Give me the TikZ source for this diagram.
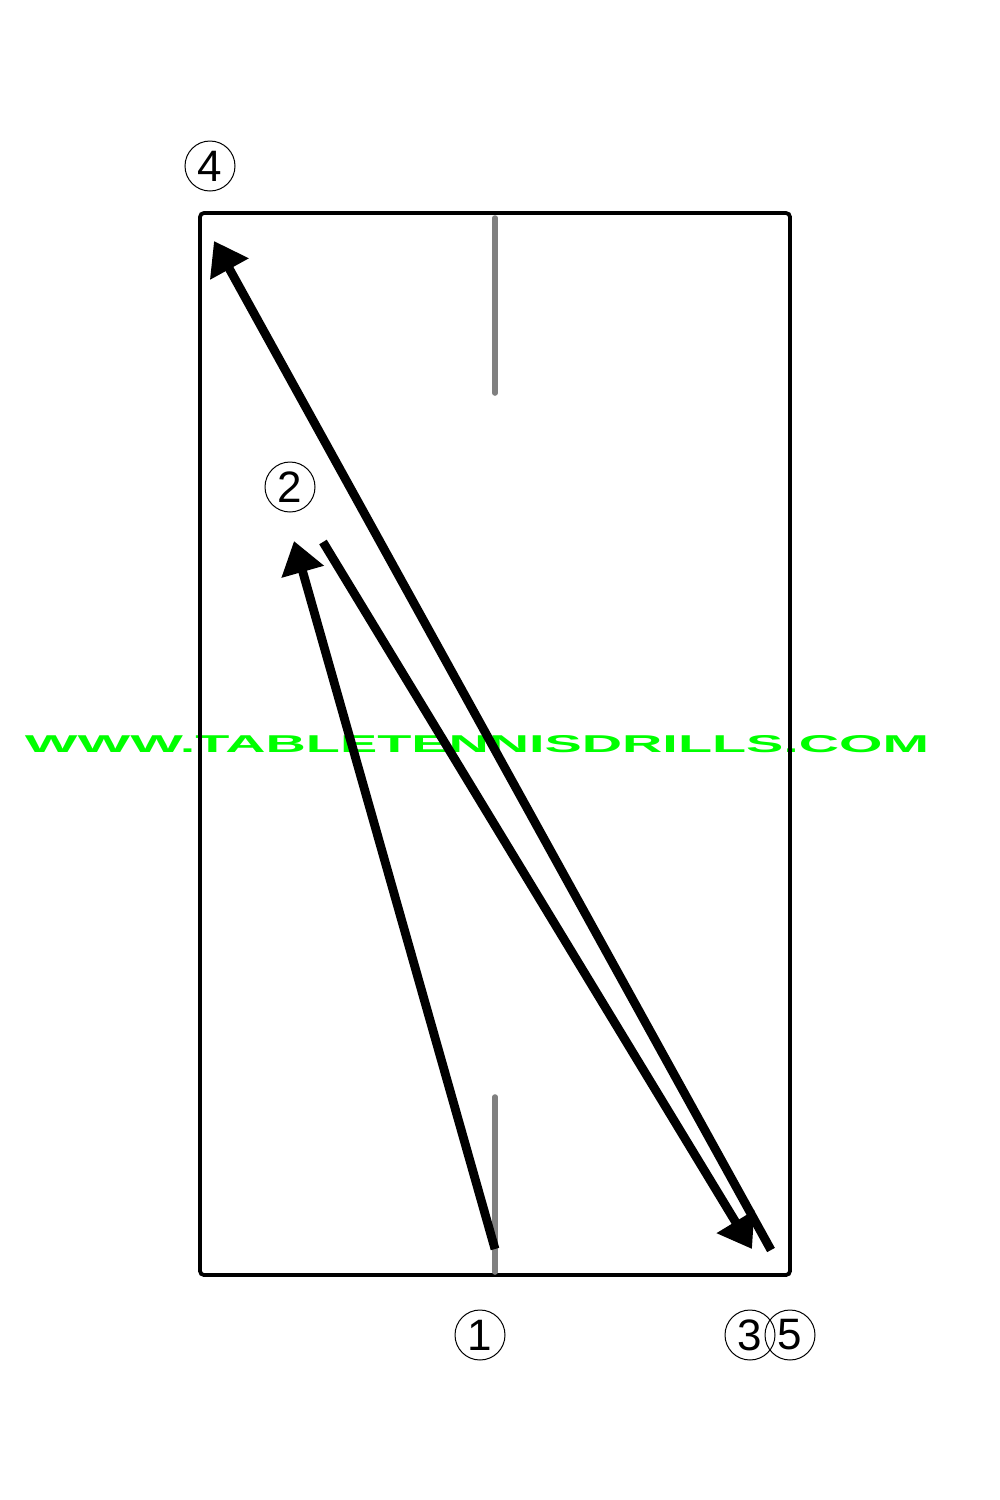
\documentclass[tikz,border=0pt]{standalone}
\usepackage{fontspec}
\setmainfont{Liberation Sans}
\usetikzlibrary{arrows.meta}
\definecolor{wmgreen}{RGB}{0,255,0}
\definecolor{netgray}{RGB}{128,128,128}
\begin{document}
\begin{tikzpicture}[x=0.5pt,y=-0.5pt,
  tablebox/.style={line width=1.9pt,rounded corners=2pt},
  centerline/.style={draw=netgray,line width=2.8pt,line cap=round},
  shot/.style={line width=4.4pt,-{Triangle[length=16pt,width=21pt]}},
  numcirc/.style={circle,draw,line width=0.5pt,minimum size=25pt,inner sep=0pt,font=\fontsize{22}{22}\selectfont}]
\useasboundingbox (0,0) rectangle (1000,1500);
% watermark
\node[inner sep=0pt,text=wmgreen] (wm) at (477,744) {\resizebox{452pt}{8.5pt}{\bfseries WWW.TABLETENNISDRILLS.COM}};
% table
\draw[tablebox] (200,213) rectangle (790,1275);
\draw[centerline] (495,218) -- (495,393);
\draw[centerline] (495,1097) -- (495,1272);
% coordinates
\coordinate (s1) at (495,1249);
\coordinate (e1) at (294,541);
\coordinate (s2) at (323,542);
\coordinate (e2) at (752,1249);
\coordinate (s3) at (771,1250);
\coordinate (e3) at (214,241);
\draw[shot] (s1) -- (e1);
\draw[shot] (s2) -- (e2);
\draw[shot] (s3) -- (e3);
% numbers
\node[numcirc] (n4) at (210,166) {4};
\node[numcirc] (n2) at (290,487) {2};
\node[numcirc] (n1) at (480,1335) {1};
\node[numcirc] (n3) at (750,1335) {3};
\node[numcirc] (n5) at (790,1335) {5};
\end{tikzpicture}
\end{document}
